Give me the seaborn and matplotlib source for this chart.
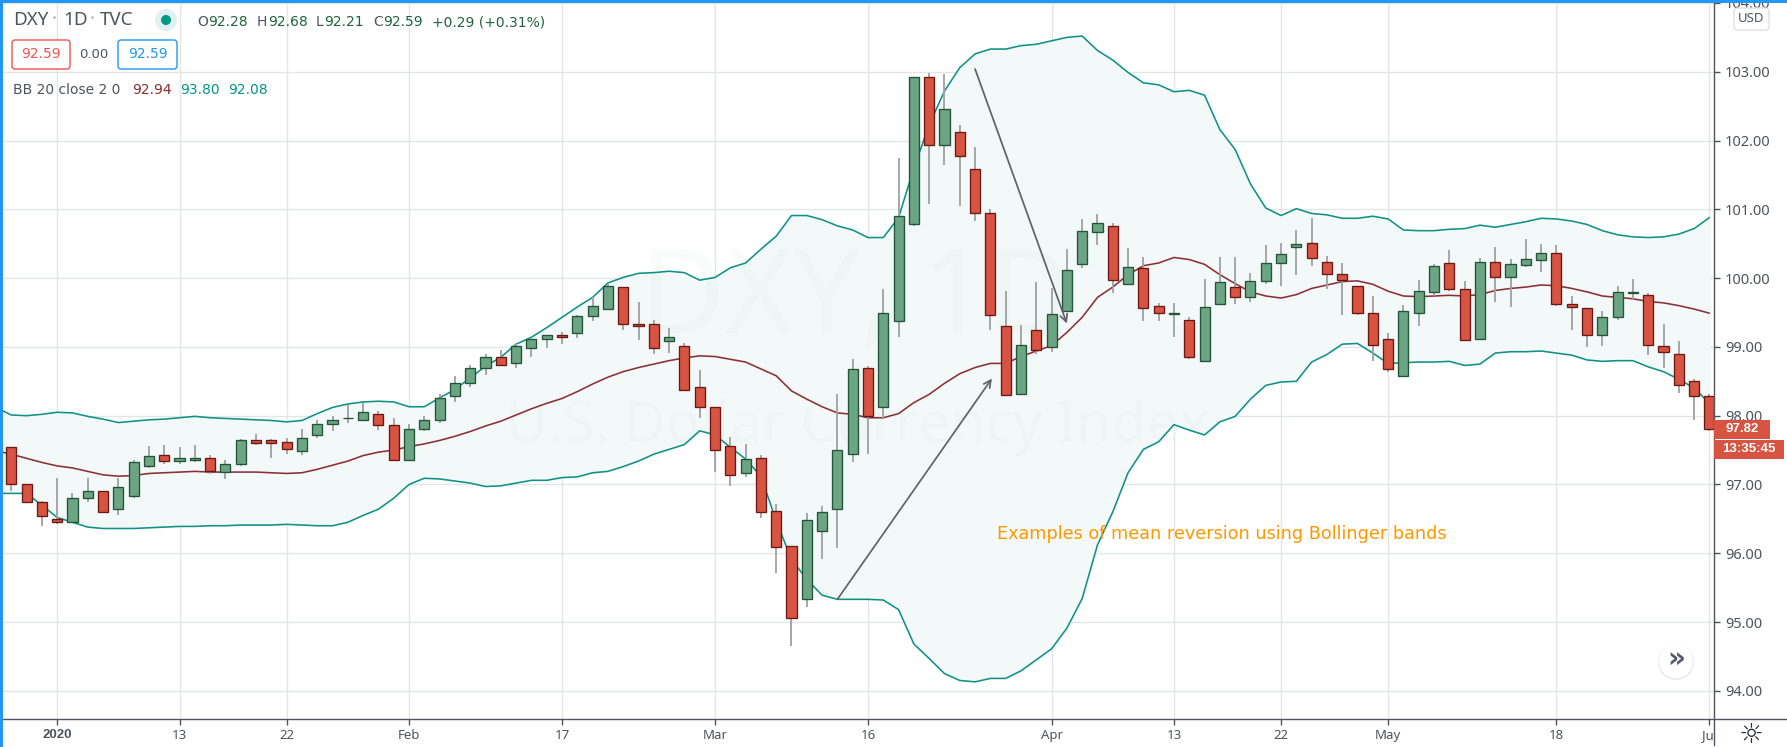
### DXY daily candles with Bollinger bands, TradingView look

import numpy as np
import pandas as pd
import seaborn as sns
import matplotlib
matplotlib.use("Agg")
import matplotlib.pyplot as plt
from matplotlib.patches import Rectangle, FancyBboxPatch, Circle
from matplotlib.lines import Line2D
from matplotlib.transforms import Affine2D

sns.set_theme(style="white")
plt.rcParams['font.family'] = ['Noto Sans', 'DejaVu Sans']

### STEP 1: VALUES

opens = [97.55, 97.01, 96.74, 96.50, 96.45, 96.80, 96.90, 96.65, 96.83, 97.27,
         97.43, 97.34, 97.36, 97.38, 97.18, 97.30, 97.64, 97.64, 97.62, 97.48,
         97.72, 97.88, 97.96, 97.94, 98.03, 97.87, 97.36, 97.81, 97.94, 98.29,
         98.47, 98.70, 98.86, 98.77, 98.99, 99.12, 99.17, 99.20, 99.45, 99.55,
         99.87, 99.34, 99.33, 99.08, 99.02, 98.42, 98.12, 97.56, 97.17, 97.39,
         96.62, 96.11, 95.33, 96.33, 96.65, 97.45, 98.70, 98.13, 99.38, 100.79,
         102.93, 101.94, 102.13, 101.59, 100.95, 99.30, 98.31, 99.25, 99.00, 99.52,
         100.20, 100.67, 100.76, 99.91, 100.15, 99.59, 99.48, 99.39, 98.80, 99.63,
         99.87, 99.72, 99.96, 100.22, 100.45, 100.51, 100.23, 100.06, 99.88, 99.49,
         99.12, 98.57, 99.50, 99.80, 100.22, 99.84, 99.12, 100.23, 100.01, 100.19,
         100.26, 100.36, 99.62, 99.56, 99.18, 99.43, 99.79, 99.76, 99.01, 98.90,
         98.50, 98.28]
highs = [97.55, 97.01, 96.76, 97.10, 96.88, 97.10, 96.90, 97.09, 97.36, 97.56,
         97.58, 97.54, 97.57, 97.43, 97.36, 97.66, 97.73, 97.66, 97.68, 97.80,
         97.94, 98.00, 98.16, 98.19, 98.07, 97.97, 97.88, 98.00, 98.32, 98.58,
         98.73, 98.89, 98.95, 99.05, 99.12, 99.17, 99.21, 99.47, 99.72, 99.92,
         99.87, 99.65, 99.39, 99.27, 99.05, 98.66, 98.12, 97.69, 97.59, 97.43,
         96.71, 96.11, 96.59, 96.69, 98.31, 98.82, 98.72, 99.84, 101.74, 102.93,
         102.98, 102.97, 102.22, 101.91, 101.01, 99.82, 99.32, 99.95, 99.85, 100.43,
         100.86, 100.93, 100.80, 100.44, 100.31, 99.64, 99.64, 99.43, 99.99, 100.31,
         100.31, 100.07, 100.48, 100.51, 100.70, 100.88, 100.32, 100.22, 99.88, 99.74,
         99.20, 99.61, 99.97, 100.20, 100.41, 99.96, 100.29, 100.45, 100.28, 100.57,
         100.50, 100.48, 99.74, 99.56, 99.52, 99.88, 99.99, 99.78, 99.33, 99.08,
         98.54, 98.31]
lows = [96.91, 96.74, 96.40, 96.42, 96.45, 96.75, 96.60, 96.55, 96.80, 97.24,
        97.30, 97.30, 97.33, 97.15, 97.08, 97.27, 97.57, 97.39, 97.44, 97.43,
        97.67, 97.78, 97.90, 97.94, 97.79, 97.36, 97.36, 97.78, 97.90, 98.20,
        98.42, 98.59, 98.72, 98.70, 98.86, 98.99, 99.04, 99.13, 99.38, 99.53,
        99.24, 99.10, 98.89, 98.91, 98.36, 97.96, 97.18, 96.98, 97.11, 96.51,
        95.71, 94.65, 95.22, 95.92, 96.08, 97.33, 97.45, 97.97, 99.15, 100.76,
        101.08, 101.65, 101.05, 100.83, 99.24, 98.30, 98.31, 98.89, 98.92, 99.51,
        100.15, 100.48, 99.78, 99.91, 99.37, 99.37, 99.14, 98.83, 98.80, 99.62,
        99.62, 99.66, 99.92, 99.89, 100.04, 100.18, 99.84, 99.46, 99.47, 98.80,
        98.63, 98.57, 99.30, 99.74, 99.82, 99.09, 99.12, 99.66, 99.58, 100.16,
        100.09, 99.59, 99.24, 99.00, 99.02, 99.39, 99.69, 98.88, 98.69, 98.33,
        97.93, 97.77]
closes = [97.01, 96.74, 96.54, 96.45, 96.80, 96.90, 96.60, 96.97, 97.32, 97.42,
          97.34, 97.38, 97.39, 97.20, 97.30, 97.64, 97.60, 97.60, 97.51, 97.68,
          97.88, 97.94, 97.97, 98.06, 97.87, 97.36, 97.81, 97.93, 98.26, 98.48,
          98.70, 98.86, 98.74, 99.02, 99.11, 99.17, 99.15, 99.45, 99.59, 99.88,
          99.34, 99.30, 98.99, 99.15, 98.38, 98.13, 97.50, 97.14, 97.37, 96.60,
          96.09, 95.06, 96.49, 96.60, 97.50, 98.68, 98.00, 99.50, 100.91, 102.93,
          101.94, 102.46, 101.77, 100.94, 99.46, 98.30, 99.03, 98.95, 99.48, 100.12,
          100.69, 100.80, 99.97, 100.16, 99.56, 99.49, 99.49, 98.86, 99.58, 99.94,
          99.72, 99.96, 100.22, 100.35, 100.50, 100.29, 100.06, 99.97, 99.50, 99.03,
          98.68, 99.52, 99.81, 100.18, 99.84, 99.10, 100.23, 100.01, 100.20, 100.28,
          100.36, 99.62, 99.58, 99.17, 99.43, 99.80, 99.80, 99.03, 98.93, 98.45,
          98.28, 97.80]

# bands start one bar before the first candle, so the lines reach the left edge
upper = [98.12, 98.01, 98.00, 98.02, 98.05, 98.04, 97.99, 97.95, 97.90, 97.92,
         97.94, 97.95, 97.97, 97.99, 97.97, 97.96, 97.95, 97.94, 97.93, 97.91,
         97.93, 98.03, 98.12, 98.17, 98.20, 98.21, 98.20, 98.13, 98.13, 98.26,
         98.38, 98.55, 98.72, 98.85, 99.04, 99.14, 99.28, 99.43, 99.58, 99.72,
         99.93, 100.01, 100.07, 100.08, 100.10, 100.08, 99.97, 100.01, 100.15, 100.22,
         100.42, 100.61, 100.91, 100.91, 100.85, 100.76, 100.70, 100.59, 100.59, 100.88,
         101.60, 102.23, 102.72, 103.06, 103.26, 103.33, 103.33, 103.38, 103.40, 103.45,
         103.50, 103.52, 103.31, 103.17, 102.99, 102.84, 102.81, 102.71, 102.73, 102.66,
         102.16, 101.87, 101.37, 101.02, 100.91, 101.01, 100.94, 100.92, 100.87, 100.87,
         100.90, 100.86, 100.70, 100.69, 100.69, 100.71, 100.72, 100.77, 100.74, 100.78,
         100.82, 100.87, 100.86, 100.83, 100.78, 100.69, 100.63, 100.60, 100.59, 100.60,
         100.64, 100.72, 100.88]
middle = [97.49, 97.44, 97.38, 97.32, 97.27, 97.24, 97.19, 97.14, 97.12, 97.13,
          97.16, 97.17, 97.18, 97.19, 97.18, 97.18, 97.18, 97.18, 97.17, 97.16,
          97.17, 97.22, 97.28, 97.34, 97.42, 97.47, 97.50, 97.55, 97.59, 97.64,
          97.70, 97.77, 97.85, 97.92, 98.01, 98.10, 98.18, 98.25, 98.35, 98.46,
          98.56, 98.64, 98.70, 98.75, 98.80, 98.84, 98.87, 98.86, 98.82, 98.78,
          98.68, 98.58, 98.36, 98.24, 98.13, 98.04, 98.02, 97.97, 97.97, 98.03,
          98.19, 98.31, 98.47, 98.61, 98.70, 98.76, 98.76, 98.86, 98.94, 99.02,
          99.21, 99.43, 99.72, 99.87, 100.05, 100.18, 100.22, 100.30, 100.27, 100.20,
          100.05, 99.92, 99.80, 99.74, 99.71, 99.76, 99.85, 99.90, 99.95, 99.96,
          99.91, 99.81, 99.74, 99.73, 99.74, 99.75, 99.74, 99.76, 99.82, 99.85,
          99.87, 99.90, 99.89, 99.85, 99.80, 99.74, 99.72, 99.70, 99.66, 99.64,
          99.60, 99.55, 99.49]
lower = [96.87, 96.87, 96.87, 96.70, 96.52, 96.45, 96.38, 96.36, 96.36, 96.36,
         96.37, 96.38, 96.39, 96.39, 96.40, 96.40, 96.41, 96.41, 96.41, 96.42,
         96.41, 96.40, 96.40, 96.45, 96.55, 96.64, 96.80, 97.00, 97.09, 97.08,
         97.05, 97.02, 96.97, 96.98, 97.02, 97.06, 97.06, 97.10, 97.11, 97.17,
         97.19, 97.26, 97.34, 97.44, 97.51, 97.58, 97.78, 97.72, 97.54, 97.37,
         97.12, 96.47, 95.91, 95.62, 95.39, 95.33, 95.33, 95.33, 95.32, 95.18,
         94.68, 94.47, 94.25, 94.15, 94.13, 94.18, 94.18, 94.29, 94.45, 94.61,
         94.91, 95.34, 96.12, 96.60, 97.17, 97.51, 97.62, 97.87, 97.79, 97.72,
         97.91, 97.99, 98.24, 98.44, 98.49, 98.50, 98.78, 98.89, 99.04, 99.05,
         98.91, 98.76, 98.77, 98.78, 98.78, 98.79, 98.73, 98.75, 98.91, 98.93,
         98.93, 98.94, 98.91, 98.88, 98.81, 98.79, 98.80, 98.80, 98.71, 98.64,
         98.53, 98.40, 98.18]

price_ticks = [94, 95, 96, 97, 98, 99, 100, 101, 102, 103, 104]
date_positions = [3, 11, 18, 26, 36, 46, 56, 68, 76, 83, 90, 101, 111]
date_labels = ["2020", "13", "22", "Feb", "17", "Mar", "16", "Apr", "13", "22", "May", "18", ""]

### STEP 2: COLOURS AND FIGURE

GREEN_BODY, GREEN_EDGE = "#6ba583", "#225437"
RED_BODY, RED_EDGE = "#d75442", "#6b1713"
TEAL = "#0f9186"
MAROON = "#8c2f35"
GRID = "#e4e6e6"
AXIS = "#50535e"
TEXT = "#50535e"

W, H = 1787, 747
fig = plt.figure(figsize=(W / 100, H / 100), dpi=100, facecolor="white")
ax = fig.add_axes([3 / W, 1 - 719 / H, 1711 / W, 716 / H])

# lets the header and side labels be placed in screen pixels, y going down
px = Affine2D().scale(1 / W, -1 / H).translate(0, 1) + fig.transFigure

### STEP 3: THE CHART

candles = pd.DataFrame({"open": opens, "high": highs, "low": lows, "close": closes})
candles["pos"] = np.arange(len(candles))
candles["top"] = candles[["open", "close"]].max(axis=1)
candles["bottom"] = candles[["open", "close"]].min(axis=1)
rising = candles["close"] >= candles["open"]

bands = pd.DataFrame({"upper": upper, "middle": middle, "lower": lower})
bands["pos"] = np.arange(-1, len(bands) - 1)

ax.fill_between(bands["pos"], bands["lower"], bands["upper"], color="#f3f9f9", zorder=1, lw=0)

sns.lineplot(data=bands, x="pos", y="upper", color=TEAL, linewidth=1.15, ax=ax, zorder=3)
sns.lineplot(data=bands, x="pos", y="lower", color=TEAL, linewidth=1.15, ax=ax, zorder=3)
sns.lineplot(data=bands, x="pos", y="middle", color=MAROON, linewidth=1.15, ax=ax, zorder=3)

ax.vlines(candles["pos"], candles["low"], candles["high"], color="#a0a0a2", linewidth=1.3, zorder=4)
for is_up, body, edge in [(True, GREEN_BODY, GREEN_EDGE), (False, RED_BODY, RED_EDGE)]:
    part = candles[rising == is_up]
    ax.bar(part["pos"], part["top"] - part["bottom"], bottom=part["bottom"], width=0.66,
           color=body, edgecolor=edge, linewidth=0.95, zorder=5)

# the two arrows that show price going back to the middle band
for start, end in [((54.0, 95.33), (64.1, 98.54)), ((63.0, 103.04), (69.0, 99.34))]:
    ax.annotate("", xy=end, xytext=start, zorder=6,
                arrowprops=dict(arrowstyle="->", color="#626262", lw=1.25, mutation_scale=13,
                                shrinkA=0, shrinkB=0))

ax.text(997, 534, "Examples of mean reversion using Bollinger bands", color="#ff9800",
        fontsize=12.7, family="DejaVu Sans", va="center", transform=px, zorder=6)

# faint symbol watermark
ax.text(857, 302, "DXY, 1D", color="#0a5050", alpha=0.02, fontsize=84, ha="center", va="center",
        transform=px, zorder=2)
ax.text(857, 428, "U.S. Dollar Currency Index", color="#0a5050", alpha=0.02, fontsize=41,
        ha="center", va="center", transform=px, zorder=2)

ax.set_xlim(-0.54, 111.3)
ax.set_ylim(93.59, 104.0)
ax.set_xlabel("")
ax.set_ylabel("")
ax.set_xticks(date_positions)
ax.set_xticklabels(date_labels)
ax.set_yticks(price_ticks)
ax.set_yticklabels([f"{p:.2f}" for p in price_ticks])
ax.yaxis.tick_right()
ax.grid(True, color=GRID, linewidth=1.0, zorder=0)
ax.set_axisbelow(True)
ax.tick_params(axis="y", length=4, width=1, color=AXIS, labelcolor=TEXT, labelsize=10.5, pad=4)
ax.tick_params(axis="x", length=4, width=1, color=AXIS, labelcolor=TEXT, labelsize=9.5, pad=3,
               bottom=True)
# Noto Sans has no bold face here
ax.get_xticklabels()[0].set_fontfamily("Liberation Sans")
ax.get_xticklabels()[0].set_fontweight("bold")
for side in ["left", "top", "right", "bottom"]:
    ax.spines[side].set_visible(False)

### STEP 4: PIXEL PLACED PARTS OF THE SCREEN

def add_text(x, y, s, color=TEXT, size=10, **kw):
    kw.setdefault("va", "center")
    fig.text(x, y, s, color=color, fontsize=size, transform=px, zorder=10, **kw)

def add_box(x0, y0, x1, y1, face, edge="none", lw=1.0, pad=0):
    if pad:
        p = FancyBboxPatch((x0, y0), x1 - x0, y1 - y0, boxstyle=f"round,pad=0,rounding_size={pad}",
                           fc=face, ec=edge, lw=lw, transform=px, zorder=9)
    else:
        p = Rectangle((x0, y0), x1 - x0, y1 - y0, fc=face, ec=edge, lw=lw, transform=px, zorder=9)
    fig.add_artist(p)

# axis lines and the blue selection frame
fig.add_artist(Line2D([1714, 1714], [0, 745], color=AXIS, lw=1, transform=px, zorder=8))
fig.add_artist(Line2D([3, 1787], [719, 719], color=AXIS, lw=1, transform=px, zorder=8))
add_box(0, 0, W, 2.5, "#2196f3")
add_box(0, 0, 2.5, H, "#2196f3")

# header
add_text(13, 20, "DXY", size=13.5)
add_text(52, 20, "·", color="#b0b3ba", size=14)
add_text(63, 20, "1D", size=13.5)
add_text(90, 20, "·", color="#b0b3ba", size=14)
add_text(100, 20, "TVC", size=13.5)
fig.add_artist(Circle((166, 20), 11, fc="#e0f0ee", ec="none", transform=px, zorder=9))
fig.add_artist(Circle((166, 20), 5, fc="#009688", ec="none", transform=px, zorder=9))

DARK_GREEN = "#21613f"
for x, letter, value, gap in [(197, "O", "92.28", 11), (257, "H", "92.68", 11.5),
                              (316, "L", "92.21", 8.5), (373, "C", "92.59", 10.5)]:
    add_text(x, 22, letter, size=10, family="DejaVu Sans")
    add_text(x + gap, 22, value, color=DARK_GREEN, size=10, family="DejaVu Sans")
add_text(432, 22, "+0.29 (+0.31%)", color=DARK_GREEN, size=10, family="DejaVu Sans")

add_box(12, 40, 70, 69, "white", edge="#ef5350", pad=3)
add_text(41, 54.5, "92.59", color="#ef5350", size=10, ha="center", family="DejaVu Sans")
add_text(94, 55, "0.00", size=9.5, ha="center", family="DejaVu Sans")
add_box(118, 40, 177, 69, "white", edge="#2196f3", pad=3)
add_text(147.5, 54.5, "92.59", color="#2196f3", size=10, ha="center", family="DejaVu Sans")

add_text(13, 90, "BB 20 close 2 0", size=10, family="DejaVu Sans")
add_text(132, 90, "92.94", color="#8a2a2a", size=10, family="DejaVu Sans")
add_text(180, 90, "93.80", color="#009688", size=10, family="DejaVu Sans")
add_text(228, 90, "92.08", color="#009688", size=10, family="DejaVu Sans")

# right hand scale extras
add_box(1734, 8, 1769, 30, "white", edge="#dde0e4", pad=4)
add_text(1751.5, 19, "USD", size=9.5, ha="center")
add_box(1714, 420, 1770, 439, RED_BODY)
add_text(1742, 429, "97.82", color="white", size=9.5, ha="center", fontweight="bold", family="Liberation Sans")
add_box(1714, 440, 1784, 459, RED_BODY)
add_text(1749, 449, "13:35:45", color="white", size=9.5, ha="center", fontweight="bold", family="Liberation Sans")

# "Ju" is the start of a date label cut off by the price scale
add_text(1714, 736, "Ju", size=9.5, ha="right")

# scroll button and settings icon
fig.add_artist(Circle((1676, 662), 18, fc="#ececec", ec="none", transform=px, zorder=8))
fig.add_artist(Circle((1676, 661), 17, fc="white", ec="none", transform=px, zorder=9))
add_text(1676, 659, "»", color="#555a6a", size=20, ha="center", fontweight="bold", family="DejaVu Sans")
add_text(1751, 735, "☼", color="#2a2e39", size=20, ha="center", family="DejaVu Sans")

fig.savefig("out.png", dpi=100, facecolor="white")
